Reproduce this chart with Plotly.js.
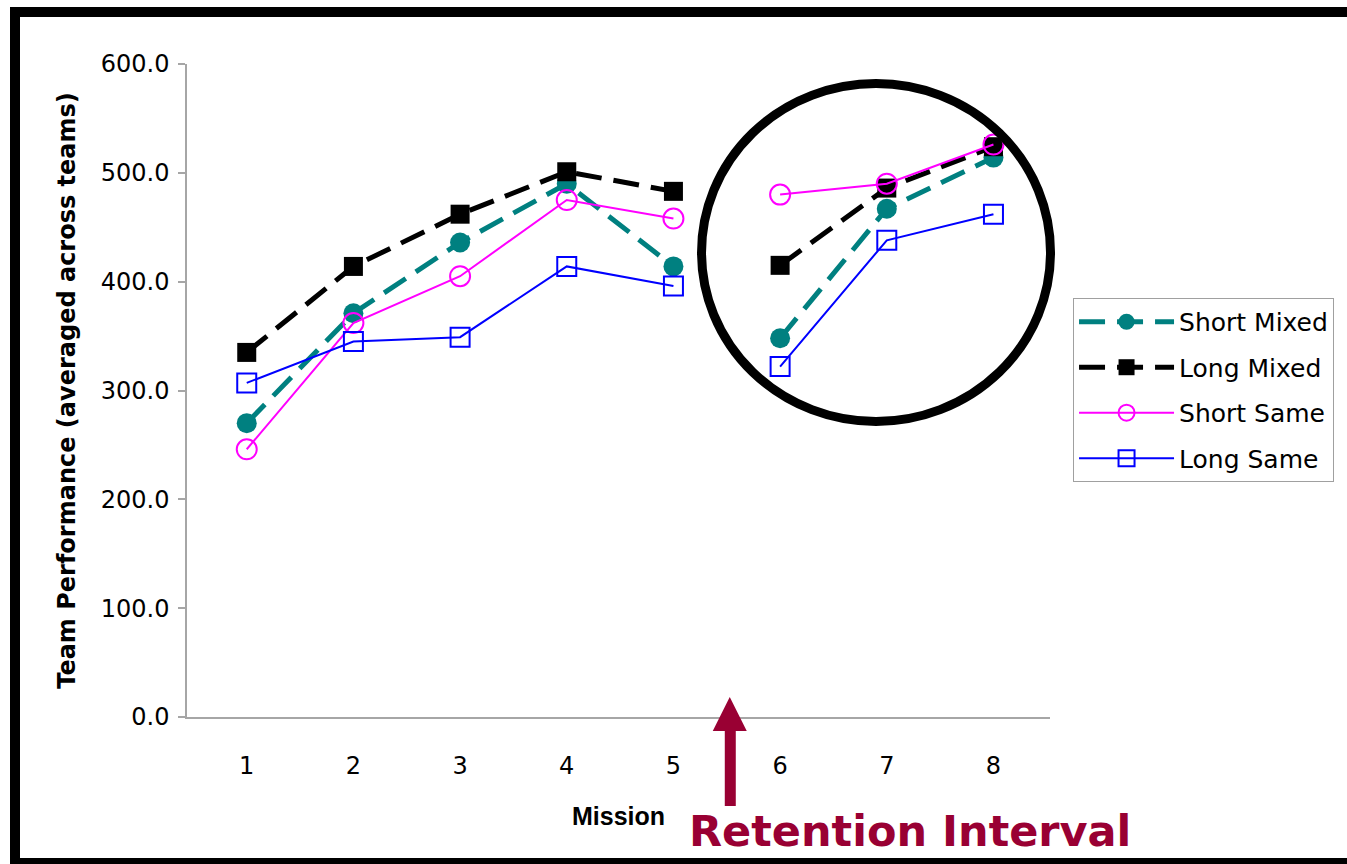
<!DOCTYPE html>
<html>
<head>
<meta charset="utf-8">
<script src="https://cdn.plot.ly/plotly-3.0.1.min.js"></script>
<style>
  html, body { margin: 0; padding: 0; background: #fff; overflow: hidden; }
  #chart { position: absolute; left: 0; top: 0; width: 1347px; height: 864px; }
  #frame {
    position: absolute; left: 10px; top: 7px; width: 1400px; height: 857px;
    box-sizing: border-box; pointer-events: none;
    border-top: 10px solid #000; border-left: 10px solid #000; border-bottom: 6px solid #000;
  }
</style>
</head>
<body>
<div id="chart"></div>
<div id="frame"></div>
<script>
// Team performance per mission, averaged across teams
const missions = [1, 2, 3, 4, 5, 6, 7, 8];
const shortMixed = [270, 371, 436, 490, 414, 348, 467, 514];
const longMixed  = [335, 414, 462, 501, 483, 415, 486, 524];
const shortSame  = [246, 362, 405, 475, 458, 480, 490, 526];
const longSame   = [307, 345, 349, 414, 396, 322, 438, 462];
const seriesNames = ['Short Mixed', 'Long Mixed', 'Short Same', 'Long Same'];
const yTicks = [0, 100, 200, 300, 400, 500, 600];

// The retention interval sits between missions 5 and 6: lines are not joined across it
const lastBeforeBreak = 5;
function withBreak(arr) {
  const i = missions.indexOf(lastBeforeBreak) + 1;
  return arr.slice(0, i).concat([null], arr.slice(i));
}

const styles = [
  { color: '#008080', line: { width: 5, dash: '26px,12px' }, marker: { symbol: 'circle', size: 20 } },
  { color: '#000000', line: { width: 5, dash: '26px,12px' }, marker: { symbol: 'square', size: 19 } },
  { color: '#FF00FF', line: { width: 2 }, marker: { symbol: 'circle-open', size: 20, line: { width: 2 } } },
  { color: '#0000FF', line: { width: 2 }, marker: { symbol: 'square-open', size: 19, line: { width: 2 } } }
];
const values = [shortMixed, longMixed, shortSame, longSame];

const traces = values.map((v, k) => ({
  type: 'scatter',
  mode: 'lines+markers',
  name: seriesNames[k],
  legendgroup: 'g' + k,
  x: withBreak(missions),
  y: withBreak(v),
  connectgaps: false,
  line: Object.assign({ color: styles[k].color }, styles[k].line),
  marker: Object.assign({ color: styles[k].color }, styles[k].marker),
  hoverinfo: 'x+y+name'
}));

const axisGray = '#a6a6a6';

const layout = {
  width: 1347,
  height: 864,
  margin: { l: 187, r: 297, t: 64, b: 147 },
  paper_bgcolor: '#ffffff',
  plot_bgcolor: '#ffffff',
  font: { family: 'DejaVu Sans', color: '#000000' },
  showlegend: true,
  xaxis: {
    range: [0.44, 8.53],
    tickvals: missions,
    ticktext: missions.map(String),
    showgrid: false,
    zeroline: false,
    showline: true,
    linecolor: axisGray,
    linewidth: 1.5,
    ticks: '',
    ticklabelstandoff: 26,
    tickfont: { size: 24 },
    title: {
      text: 'Mission',
      font: { family: 'Liberation Sans', size: 25, weight: 'bold' },
      standoff: 29
    }
  },
  yaxis: {
    range: [0, 600],
    tickvals: yTicks,
    tickformat: '.1f',
    showgrid: false,
    zeroline: false,
    showline: true,
    linecolor: axisGray,
    linewidth: 1.5,
    ticks: 'outside',
    ticklen: 7,
    tickwidth: 1.5,
    tickcolor: axisGray,
    ticklabelstandoff: 4,
    tickfont: { size: 24 },
    title: {
      text: 'Team Performance (averaged across teams)',
      font: { size: 24, weight: 'bold' },
      standoff: 18
    }
  },
  legend: {
    x: 1.0267, y: 0.6417, xanchor: 'left', yanchor: 'top',
    bgcolor: '#ffffff',
    bordercolor: '#a0a0a0',
    borderwidth: 1,
    font: { family: 'DejaVu Sans', size: 25 },
    itemwidth: 95,
    tracegroupgap: 10,
    traceorder: 'grouped'
  },
  annotations: [{
    text: 'Retention Interval',
    xref: 'paper', yref: 'paper',
    x: 0.5794, y: -0.175,
    xanchor: 'left', yanchor: 'middle',
    showarrow: false,
    font: { family: 'DejaVu Sans', size: 43, weight: 'bold', color: '#990033' }
  }],
  shapes: [
    // ring around missions 6-8
    {
      type: 'circle', xref: 'paper', yref: 'paper',
      x0: 0.5962, x1: 1.0006, y0: 0.4525, y1: 0.9701,
      line: { color: '#000000', width: 9 }
    },
    // arrow shaft marking the retention interval
    {
      type: 'rect', xref: 'x', yref: 'paper',
      xsizemode: 'pixel', xanchor: 5.5, x0: -2, x1: 9,
      ysizemode: 'pixel', yanchor: 0, y0: -14, y1: -89,
      fillcolor: '#990033', line: { width: 0 }
    },
    // arrow head
    {
      type: 'path', xref: 'x', yref: 'paper',
      xsizemode: 'pixel', xanchor: 5.5,
      ysizemode: 'pixel', yanchor: 0,
      path: 'M -14,-14 L 20,-14 L 3,20 Z',
      fillcolor: '#990033', line: { width: 0 }
    }
  ]
};

Plotly.newPlot('chart', traces, layout, { displayModeBar: false, responsive: false });
</script>
</body>
</html>
